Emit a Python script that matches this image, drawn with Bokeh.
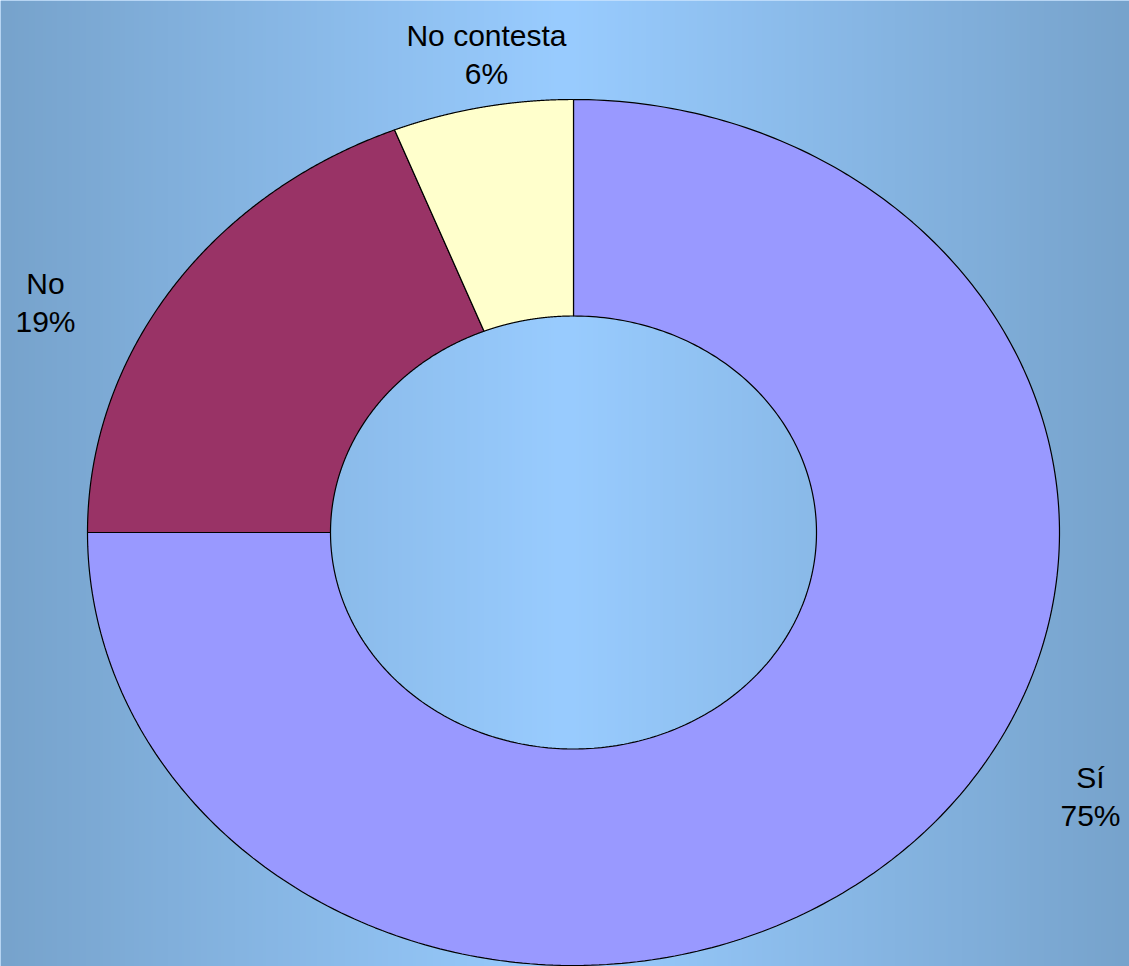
import numpy as np
from bokeh.plotting import figure
from bokeh.models import ColumnDataSource, Range1d
from bokeh.core.properties import value
from bokeh.embed import file_html
from bokeh.resources import INLINE

# ---- data ----
categories = ["Sí", "No", "No contesta"]
shares = [75, 19, 6]
colors = ["#9999ff", "#993366", "#ffffcc"]

# ---- layout (pixels of the reference image) ----
W, H = 1129, 966
OFF = 0
CX, CY = 573, 532          # donut centre in reference pixels
RX, RY = 486, 433          # outer radii in pixels (unit circle -> ellipse)
INNER = 0.5
label_px = {"Sí": (1090, 777), "No": (45, 283), "No contesta": (486, 35)}
LINE_GAP = 38

def dx(px):
    return (px - CX) / RX

def dy(py):
    return (CY - py) / RY

p = figure(width=W, height=H, output_backend="svg", toolbar_location=None,
           x_range=Range1d(dx(OFF), dx(OFF + W)), y_range=Range1d(dy(OFF + H), dy(OFF)),
           min_border=0)
p.axis.visible = False
p.grid.visible = False
p.outline_line_color = None
p.background_fill_color = "#99ccff"
p.border_fill_color = "#99ccff"

# background horizontal gradient (style)
ncol = 400
t = np.linspace(0, 1, ncol)
edge = np.array([0x77, 0xa3, 0xcc], dtype=float)
mid = np.array([0x99, 0xcc, 0xff], dtype=float)
w = 1 - np.abs(t - 0.5) * 2
cols = edge[None, :] + (mid - edge)[None, :] * w[:, None]
img = np.zeros((1, ncol), dtype=np.uint32)
view = img.view(dtype=np.uint8).reshape((1, ncol, 4))
view[0, :, 0] = cols[:, 0].astype(np.uint8)
view[0, :, 1] = cols[:, 1].astype(np.uint8)
view[0, :, 2] = cols[:, 2].astype(np.uint8)
view[0, :, 3] = 255
x0, x1 = dx(0), dx(1129)
y0, y1 = dy(966), dy(0)
p.image_rgba(image=[img], x=x0, y=y0, dw=x1 - x0, dh=y1 - y0)

# donut slices, clockwise from 12 o'clock
total = float(sum(shares))
cum = np.concatenate([[0], np.cumsum(shares)]) / total
xs, ys = [], []
for i in range(len(shares)):
    a0 = np.pi / 2 - 2 * np.pi * cum[i]
    a1 = np.pi / 2 - 2 * np.pi * cum[i + 1]
    th = np.linspace(a0, a1, 300)
    ox, oy = np.cos(th), np.sin(th)
    ix, iy = INNER * np.cos(th[::-1]), INNER * np.sin(th[::-1])
    xs.append(np.concatenate([ox, ix]).tolist())
    ys.append(np.concatenate([oy, iy]).tolist())

src = ColumnDataSource(dict(xs=xs, ys=ys, color=colors, cat=categories))
p.patches("xs", "ys", source=src, fill_color="color", line_color="black", line_width=1.2)

# labels
lx = [dx(label_px[c][0]) for c in categories]
ly1 = [dy(label_px[c][1]) for c in categories]
ly2 = [dy(label_px[c][1] + LINE_GAP) for c in categories]
pct = [f"{s}%" for s in shares]
for ys_, txt in ((ly1, categories), (ly2, pct)):
    p.text(x=lx, y=ys_, text=txt, text_align="center", text_baseline="alphabetic",
           text_font=value("Liberation Sans"), text_font_size="30px", text_color="black")

open("out.html", "w").write(file_html(p, INLINE))
